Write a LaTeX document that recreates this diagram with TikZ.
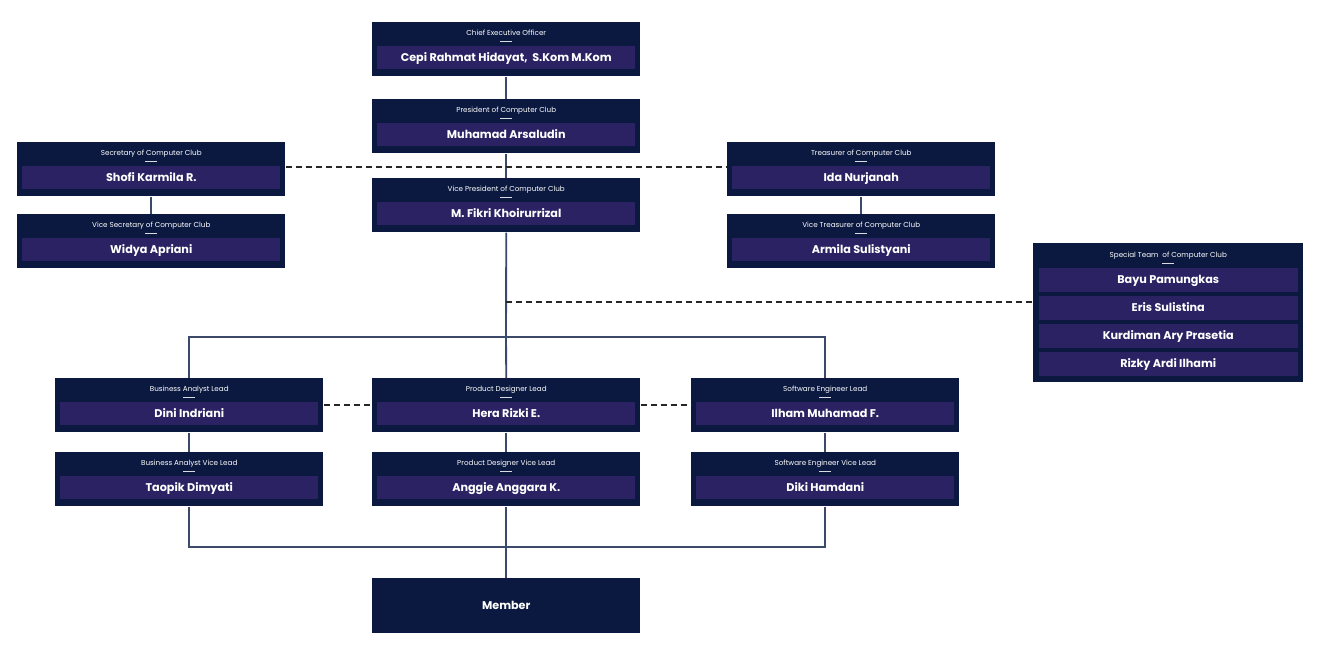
\documentclass[tikz,border=0pt]{standalone}
\usepackage{fontspec}
\setmainfont{Poppins}
\definecolor{boxc}{HTML}{0B1940}
\definecolor{barc}{HTML}{2A2262}
\definecolor{linec}{HTML}{3B4A6B}
\tikzset{
  outer/.style={fill=boxc, draw=none, minimum width=201pt, minimum height=40.5pt, inner sep=0pt, anchor=north west},
  inner/.style={fill=barc, minimum width=193.5pt, minimum height=17.25pt, inner sep=0pt, text=white, font=\bfseries\fontsize{8.4}{10}\selectfont, text height=6.1pt, text depth=0.6pt},
  ttl/.style={text=white, font=\fontsize{5.4}{6.5}\selectfont, inner sep=0pt, text height=3.9pt, text depth=0.4pt},
  uline/.style={draw=white!85!boxc, line width=0.6pt},
  conn/.style={draw=linec, line width=1.4pt},
  dashc/.style={draw=black!85, line width=0.8pt, dash pattern=on 4.5pt off 3pt}
}
\newcommand\obox[5]{%
  \node[outer] (#1) at (#2,#3) {};
  \node[ttl] (#1-t) at ([yshift=-8pt]#1.north) {#4};
  \draw[uline] ([xshift=-4.5pt,yshift=-14.2pt]#1.north) -- ++(9pt,0);
  \node[inner, anchor=north] (#1-n) at ([yshift=-18pt]#1.north) {#5};
}
\begin{document}
\begin{tikzpicture}[x=0.75pt,y=-0.75pt]
\useasboundingbox[fill=white] (0,0) rectangle (1339,662);

\coordinate (hub) at (506,337);
\coordinate (bot) at (506,547);
\coordinate (tap) at (506,302);

\obox{ceo}{372}{22}{Chief Executive Officer}{Cepi Rahmat Hidayat,\ \ S.Kom M.Kom}
\obox{pres}{372}{99}{President of Computer Club}{Muhamad Arsaludin}
\obox{vp}{372}{178}{Vice President of Computer Club}{M. Fikri Khoirurrizal}
\obox{sec}{17}{142}{Secretary of Computer Club}{Shofi Karmila R.}
\obox{vsec}{17}{214}{Vice Secretary of Computer Club}{Widya Apriani}
\obox{tre}{727}{142}{Treasurer of Computer Club}{Ida Nurjanah}
\obox{vtre}{727}{214}{Vice Treasurer of Computer Club}{Armila Sulistyani}
\obox{ba}{55}{378}{Business Analyst Lead}{Dini Indriani}
\obox{bav}{55}{452}{Business Analyst Vice Lead}{Taopik Dimyati}
\obox{pd}{372}{378}{Product Designer Lead}{Hera Rizki E.}
\obox{pdv}{372}{452}{Product Designer Vice Lead}{Anggie Anggara K.}
\obox{se}{691}{378}{Software Engineer Lead}{Ilham Muhamad F.}
\obox{sev}{691}{452}{Software Engineer Vice Lead}{Diki Hamdani}

% member
\node[outer, minimum height=41.25pt] (mem) at (372,578) {};
\node[text=white, font=\bfseries\fontsize{8.4}{10}\selectfont, inner sep=0pt] (mem-t) at (mem.center) {Member};

% special team
\node[outer, minimum width=202.5pt, minimum height=104.25pt] (spec) at (1033,243) {};
\node[ttl] (spec-t) at ([yshift=-8.75pt]spec.north) {Special Team\ \ of Computer Club};
\draw[uline] ([xshift=-4.5pt,yshift=-15pt]spec.north) -- ++(9pt,0);
\node[inner, minimum width=194.25pt, minimum height=18pt, anchor=north] (sp1) at ([yshift=-18.75pt]spec.north) {Bayu Pamungkas};
\node[inner, minimum width=194.25pt, minimum height=18pt, anchor=north] (sp2) at ([yshift=-39.75pt]spec.north) {Eris Sulistina};
\node[inner, minimum width=194.25pt, minimum height=18pt, anchor=north] (sp3) at ([yshift=-60.75pt]spec.north) {Kurdiman Ary Prasetia};
\node[inner, minimum width=194.25pt, minimum height=18pt, anchor=north] (sp4) at ([yshift=-81.75pt]spec.north) {Rizky Ardi Ilhami};

% solid connectors
\draw[conn] (ceo.south) -- (pres.north);
\draw[conn] (pres.south) -- (vp.north);
\draw[conn] (sec.south) -- (vsec.north);
\draw[conn] (tre.south) -- (vtre.north);
\draw[conn] (vp.south) -- (hub);
\draw[conn] (ba.north) |- (hub) -| (se.north);
\draw[conn] (hub) -- (pd.north);
\draw[conn] (ba.south) -- (bav.north);
\draw[conn] (pd.south) -- (pdv.north);
\draw[conn] (se.south) -- (sev.north);
\draw[conn] (bav.south) |- (bot) -| (sev.south);
\draw[conn] (pdv.south) -- (mem.north);

% dashed connectors
\draw[dashc] ([yshift=-18.75pt]sec.north east) -- ([yshift=-18.75pt]tre.north west);
\draw[dashc] ([yshift=-20.25pt]ba.north east) -- ([yshift=-20.25pt]pd.north west);
\draw[dashc] ([yshift=-20.25pt]pd.north east) -- ([yshift=-20.25pt]se.north west);
\draw[dashc] (tap) -- (tap -| spec.west);
\end{tikzpicture}
\end{document}
